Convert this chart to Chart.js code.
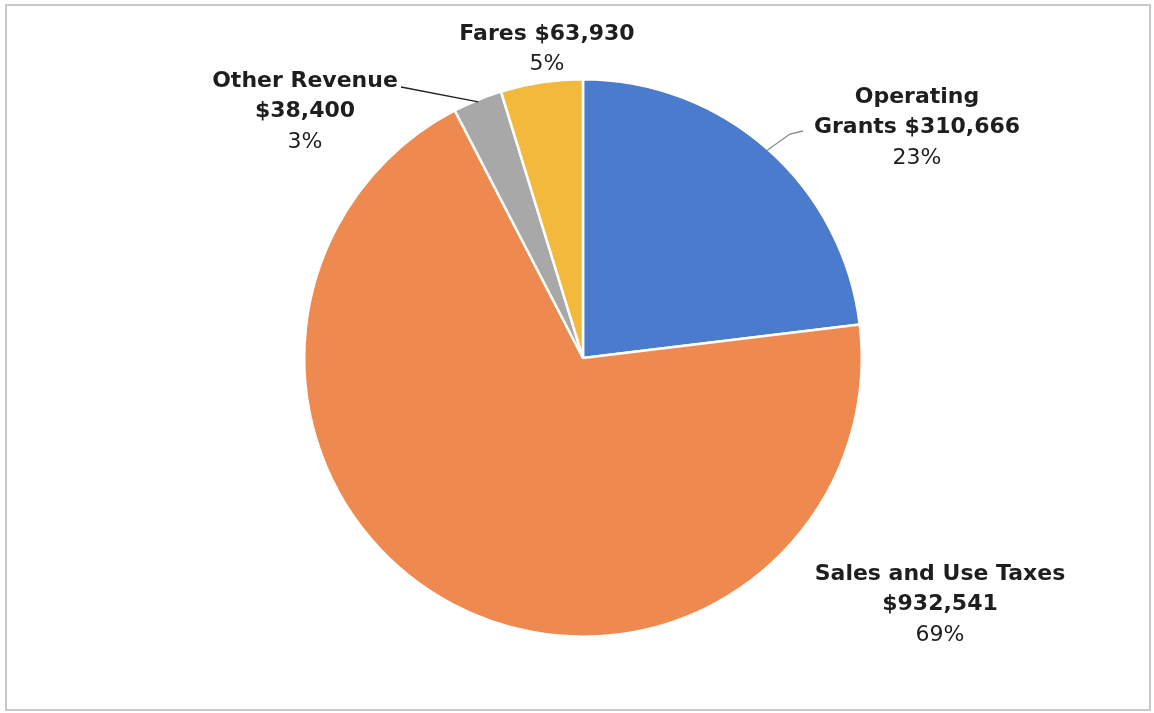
<!DOCTYPE html>
<html lang="en">
<head>
    <meta charset="utf-8" />
    <script src="https://cdn.jsdelivr.net/npm/chart.js@4/dist/chart.umd.min.js"></script>
    <style>
        html, body { margin: 0; padding: 0; background: #fff; }
        #box { position: relative; width: 1154px; height: 713px; }
    </style>
</head>
<body>
    <div id="box">
        <canvas id="revChart"></canvas>
    </div>

    <script>
        // fonti di entrata
        var categories = ['Operating Grants', 'Sales and Use Taxes', 'Other Revenue', 'Fares'];
        var amounts = [310666, 932541, 38400, 63930];
        var colors = ['#4a7bcc', '#ee8a50', '#a8a8a8', '#f3b93c'];

        // righe delle etichette (testo in grassetto) per ogni fetta
        var labelLines = [
            ['Operating', 'Grants $310,666'],
            ['Sales and Use Taxes', '$932,541'],
            ['Other Revenue', '$38,400'],
            ['Fares $63,930']
        ];

        var total = amounts.reduce(function (a, b) { return a + b; }, 0);

        // posizione della prima riga di ogni etichetta, in px dal centro della torta
        var labelPos = [
            { dx: 334, dy: -261 },
            { dx: 357, dy: 216 },
            { dx: -278, dy: -277 },
            { dx: -36, dy: -324 }
        ];

        // cornice grigia attorno al grafico
        const framePlugin = {
            id: 'frame',
            beforeDraw(chart) {
                const c = chart.ctx;
                c.save();
                c.fillStyle = '#fff';
                c.fillRect(0, 0, chart.width, chart.height);
                c.strokeStyle = '#c9c9c9';
                c.lineWidth = 2;
                c.strokeRect(6, 5, 1144, 705);
                c.restore();
            }
        };

        // etichette con linee di richiamo
        const labelPlugin = {
            id: 'sliceLabels',
            afterDatasetsDraw(chart) {
                const c = chart.ctx;
                const meta = chart.getDatasetMeta(0);
                const arc0 = meta.data[0];
                const cx = arc0.x, cy = arc0.y, r = arc0.outerRadius;

                c.save();
                c.textAlign = 'center';
                c.textBaseline = 'middle';
                c.fillStyle = '#1e1e1e';

                meta.data.forEach(function (arc, i) {
                    const p = labelPos[i];
                    const lx = cx + p.dx;
                    let y = cy + p.dy;
                    const pct = Math.round(amounts[i] / total * 100) + '%';
                    c.font = 'bold 22px "DejaVu Sans"';
                    labelLines[i].forEach(function (t) {
                        c.fillText(t, lx, y);
                        y += 30.5;
                    });
                    c.font = '22px "DejaVu Sans"';
                    c.fillText(pct, lx, y);
                });

                // linea di richiamo per Other Revenue
                const a2 = meta.data[2];
                const mid2 = (a2.startAngle + a2.endAngle) / 2;
                c.strokeStyle = '#222';
                c.lineWidth = 1.3;
                c.beginPath();
                c.moveTo(401, 87);
                c.lineTo(cx + Math.cos(mid2) * (r - 2), cy + Math.sin(mid2) * (r - 2));
                c.stroke();

                // linea di richiamo per Operating Grants
                const a0 = meta.data[0];
                const mid0 = (a0.startAngle + a0.endAngle) / 2;
                c.strokeStyle = '#8a8a8a';
                c.lineWidth = 1.3;
                c.beginPath();
                c.moveTo(803, 131);
                c.lineTo(790, 134);
                c.lineTo(cx + Math.cos(mid0) * (r - 1), cy + Math.sin(mid0) * (r - 1));
                c.stroke();

                c.restore();
            }
        };

        const ctx = document.getElementById('revChart');

        const revChart = new Chart(ctx, {
            type: 'pie',
            data: {
                labels: categories,
                datasets: [{
                    data: amounts,
                    backgroundColor: colors,
                    borderColor: '#ffffff',
                    borderWidth: 2.5
                }]
            },
            options: {
                responsive: true,
                maintainAspectRatio: false,
                animation: false,
                rotation: 0,
                layout: {
                    padding: { left: 303, right: 291, top: 76, bottom: 73 }
                },
                plugins: {
                    legend: { display: false },
                    tooltip: { enabled: false },
                    title: { display: false }
                }
            },
            plugins: [framePlugin, labelPlugin]
        });
    </script>
</body>
</html>
